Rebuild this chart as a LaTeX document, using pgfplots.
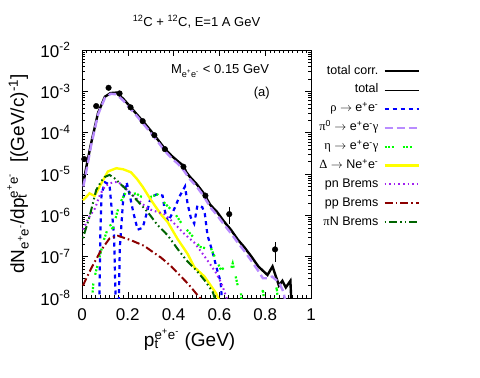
\documentclass[border=0pt]{standalone}
\usepackage{fontspec}
\setmainfont{Liberation Sans}
\newfontfamily\grk{Liberation Serif}
\usepackage{pgfplots}
\pgfplotsset{compat=1.18}
\definecolor{rhoblue}{RGB}{0,0,255}
\definecolor{pizpurple}{RGB}{185,140,255}
\definecolor{etagreen}{RGB}{0,255,0}
\definecolor{delyellow}{RGB}{255,255,0}
\definecolor{pnpurple}{RGB}{160,32,240}
\definecolor{ppred}{RGB}{140,0,0}
\definecolor{pingreen}{RGB}{0,100,0}
\begin{document}
\begin{tikzpicture}
\useasboundingbox (0pt,0pt) rectangle (480pt,378pt);
\begin{axis}[
  at={(82pt,80pt)}, anchor=south west, scale only axis,
  width=229pt, height=248pt,
  xmin=0, xmax=1, ymin=1e-8, ymax=1e-2, ymode=log, log basis y=10,
  axis line style={line width=0.8pt},
  tick align=inside, major tick length=6pt, minor tick length=3pt,
  tick style={line width=0.5pt, black},
  xtick={0,0.2,0.4,0.6,0.8,1}, xticklabels={0,0.2,0.4,0.6,0.8,1},
  minor x tick num=9,
  ytick={1e-8,1e-7,1e-6,1e-5,1e-4,1e-3,1e-2},
  yticklabels={10\textsuperscript{-8},10\textsuperscript{-7},10\textsuperscript{-6},10\textsuperscript{-5},10\textsuperscript{-4},10\textsuperscript{-3},10\textsuperscript{-2}},
  minor ytick={2e-8,3e-8,4e-8,5e-8,6e-8,7e-8,8e-8,9e-8,2e-7,3e-7,4e-7,5e-7,6e-7,7e-7,8e-7,9e-7,2e-6,3e-6,4e-6,5e-6,6e-6,7e-6,8e-6,9e-6,2e-5,3e-5,4e-5,5e-5,6e-5,7e-5,8e-5,9e-5,2e-4,3e-4,4e-4,5e-4,6e-4,7e-4,8e-4,9e-4,2e-3,3e-3,4e-3,5e-3,6e-3,7e-3,8e-3,9e-3},
  tick label style={font=\fontsize{17}{19}\selectfont},
  xticklabel style={yshift=-7pt}, yticklabel style={xshift=-8pt},
  title={\textsuperscript{12}C + \textsuperscript{12}C, E=1 A GeV},
  title style={font=\fontsize{13}{15}\selectfont, at={(axis description cs:0.5,1)}, anchor=base, yshift=18pt},
  xlabel={p\rlap{\textsubscript{t}}\textsuperscript{e\textsuperscript{+}e\textsuperscript{-}} (GeV)},
  xlabel style={font=\fontsize{19}{21}\selectfont, at={(axis description cs:0.47,0)}, anchor=base, yshift=-48pt},
  ylabel={dN\textsubscript{e\textsuperscript{+}e\textsuperscript{-}}/dp\rlap{\textsubscript{t}}\textsuperscript{e\textsuperscript{+}e\textsuperscript{-}}\ \ [(GeV/c)\textsuperscript{-1}]},
  ylabel style={font=\fontsize{19}{21}\selectfont, at={(axis description cs:-0.253,0.5)}, anchor=base},
  legend image code/.code={\draw[#1] (0pt,0pt) -- (34pt,0pt);},
  legend plot pos=right,
  legend cell align=right,
  legend style={at={(axis description cs:1.476,0.94)}, anchor=north east, draw=none, fill=none,
    font=\fontsize{12.5}{14}\selectfont, inner sep=0pt, row sep=6.9pt, column sep=5pt,
    nodes={inner sep=0pt, text height=9pt, text depth=3pt}},
]
% total corr.
\addplot[black, line width=2.4pt] coordinates {
(0.006,6.0e-6) (0.02,1.6e-5) (0.04,5.6e-5) (0.07,3.0e-4) (0.10,7.4e-4) (0.125,9.1e-4)
(0.15,9.3e-4) (0.18,6.6e-4) (0.21,4.3e-4) (0.24,2.75e-4) (0.27,1.78e-4) (0.30,1.12e-4)
(0.33,6.9e-5) (0.36,4.2e-5) (0.39,2.8e-5) (0.42,2.0e-5) (0.443,1.58e-5) (0.455,1.12e-5)
(0.47,8.7e-6) (0.50,5.75e-6) (0.53,3.5e-6) (0.56,1.8e-6) (0.59,1.2e-6) (0.62,7.1e-7)
(0.65,4.5e-7) (0.68,2.6e-7) (0.71,1.66e-7) (0.74,1.0e-7) (0.77,5.8e-8) (0.81,3.6e-8)
(0.832,5.8e-8) (0.86,2.0e-8) (0.875,2.6e-8) (0.89,1.8e-8) (0.91,2.6e-8) (0.916,5e-9)
};
\addlegendentry{total corr.}
% total
\addplot[black, line width=0.8pt] coordinates {
(0.006,6.0e-6) (0.02,1.6e-5) (0.04,5.6e-5) (0.07,3.0e-4) (0.10,7.4e-4) (0.125,9.1e-4)
(0.15,9.3e-4) (0.18,6.6e-4) (0.21,4.3e-4) (0.24,2.75e-4) (0.27,1.78e-4) (0.30,1.12e-4)
(0.33,6.9e-5) (0.36,4.2e-5) (0.39,2.8e-5) (0.42,2.0e-5) (0.443,1.58e-5) (0.455,1.12e-5)
(0.47,8.7e-6) (0.50,5.75e-6) (0.53,3.5e-6) (0.56,1.8e-6) (0.59,1.2e-6) (0.62,7.1e-7)
(0.65,4.5e-7) (0.68,2.6e-7) (0.71,1.66e-7) (0.74,1.0e-7) (0.77,5.8e-8) (0.81,3.6e-8)
(0.832,5.8e-8) (0.86,2.0e-8) (0.875,2.6e-8) (0.89,1.8e-8) (0.91,2.6e-8) (0.916,5e-9)
};
\addlegendentry{total}
% rho
\addplot[rhoblue, line width=2.2pt, dash pattern=on 4pt off 4pt] coordinates {
(0.075,5e-9) (0.08,3.2e-7) (0.085,3.2e-6) (0.10,6.3e-6) (0.12,5.6e-6) (0.14,3.2e-7)
(0.148,5e-9) (0.16,5e-9) (0.165,1.6e-7) (0.18,2.5e-6) (0.195,6.3e-6) (0.21,2.8e-6)
(0.225,1.12e-6) (0.243,4.5e-7) (0.265,5.0e-7) (0.285,1.26e-6) (0.30,2.75e-6) (0.325,3.2e-6)
(0.352,3.0e-6) (0.362,1.26e-6) (0.375,7.1e-7) (0.39,1.0e-6) (0.41,1.74e-6) (0.424,2.75e-6)
(0.45,5.0e-6) (0.461,1.9e-6) (0.475,8.9e-7) (0.49,6.3e-7) (0.504,1.74e-6) (0.525,1.58e-6)
(0.536,1.12e-6) (0.548,3.3e-7) (0.57,1.3e-7) (0.59,4.8e-8) (0.605,2.5e-8) (0.615,5e-9)
};
\addlegendentry{{\grk ρ} $\rightarrow$ e\textsuperscript{+}e\textsuperscript{-}}
% pi0
\addplot[pizpurple, line width=2.4pt, dash pattern=on 8pt off 4pt] coordinates {
(0.006,5.0e-6) (0.02,1.26e-5) (0.04,5.0e-5) (0.07,2.75e-4) (0.10,6.9e-4) (0.125,8.7e-4)
(0.15,8.5e-4) (0.18,6.0e-4) (0.21,3.9e-4) (0.24,2.5e-4) (0.27,1.58e-4) (0.30,1.0e-4)
(0.33,6.2e-5) (0.36,3.7e-5) (0.39,2.45e-5) (0.42,1.74e-5) (0.445,1.2e-5) (0.47,7.6e-6)
(0.50,5.0e-6) (0.53,3.0e-6) (0.56,1.58e-6) (0.59,1.0e-6) (0.62,6.0e-7) (0.65,3.7e-7)
(0.68,2.2e-7) (0.71,1.35e-7) (0.74,7.9e-8) (0.77,4.5e-8) (0.79,3.0e-8) (0.81,3.0e-8)
(0.83,3.3e-8) (0.86,2.4e-8) (0.88,1.4e-8) (0.895,5e-9)
};
\addlegendentry{{\grk π}\textsuperscript{0} $\rightarrow$ e\textsuperscript{+}e\textsuperscript{-}{\grk γ}}
% eta
\addplot[etagreen, line width=2.2pt, dash pattern=on 2pt off 1.5pt on 2pt off 1.5pt on 2pt off 9pt] coordinates {
(0.04,5e-9) (0.05,2.5e-8) (0.077,1.0e-7) (0.095,2.5e-7) (0.12,6.3e-7) (0.135,4.5e-7)
(0.15,1.0e-6) (0.164,1.9e-6) (0.19,3.5e-6) (0.214,3.2e-6) (0.236,3.4e-6) (0.26,2.8e-6)
(0.287,2.5e-6) (0.30,2.8e-6) (0.33,3.2e-6) (0.36,2.0e-6) (0.405,1.12e-6) (0.44,5.8e-7)
(0.49,2.8e-7) (0.513,1.74e-7) (0.54,1.6e-7) (0.557,1.9e-7) (0.586,8.3e-8) (0.607,4.8e-8)
(0.63,5.8e-8) (0.651,5.2e-8) (0.658,6.9e-8) (0.68,2.0e-8) (0.694,1.4e-8) (0.70,5e-9)
(0.78,5e-9) (0.79,1.6e-8) (0.80,5e-9) (0.84,5e-9) (0.85,1.8e-8) (0.86,5e-9)
};
\addlegendentry{{\grk η} $\rightarrow$ e\textsuperscript{+}e\textsuperscript{-}{\grk γ}}
% Delta
\addplot[delyellow, line width=2.4pt] coordinates {
(0.004,2.3e-6) (0.033,3.4e-6) (0.055,2.95e-6) (0.084,5.9e-6) (0.113,1.15e-5) (0.15,1.38e-5)
(0.18,1.3e-5) (0.214,1.1e-5) (0.24,7.6e-6) (0.265,4.9e-6) (0.30,2.4e-6) (0.345,1.05e-6)
(0.374,6.9e-7) (0.417,2.7e-7) (0.462,1.15e-7) (0.49,5.6e-8) (0.535,3.3e-8) (0.586,1.29e-8)
(0.60,8.5e-9)
};
\addlegendentry{{\grk Δ} $\rightarrow$ Ne\textsuperscript{+}e\textsuperscript{-}}
% pn Brems
\addplot[pnpurple, line width=2pt, dash pattern=on 1.6pt off 3pt] coordinates {
(0.005,4.5e-7) (0.03,8.9e-7) (0.057,1.48e-6) (0.078,3.1e-6) (0.10,5.0e-6) (0.122,6.0e-6)
(0.157,6.5e-6) (0.20,4.0e-6) (0.24,2.5e-6) (0.287,1.45e-6) (0.33,1.2e-6) (0.36,1.07e-6)
(0.40,6.6e-7) (0.446,3.6e-7) (0.49,2.2e-7) (0.52,1.32e-7) (0.557,6.9e-8) (0.586,4.0e-8)
(0.61,2.2e-8) (0.635,8.9e-9)
};
\addlegendentry{pn Brems}
% pp Brems
\addplot[ppred, line width=2pt, dash pattern=on 8pt off 3pt on 1.6pt off 3pt] coordinates {
(0.004,2.0e-8) (0.04,5.2e-8) (0.084,1.45e-7) (0.12,2.75e-7) (0.157,3.2e-7) (0.214,2.5e-7)
(0.272,1.82e-7) (0.30,1.41e-7) (0.345,9.5e-8) (0.39,5.8e-8) (0.462,2.24e-8) (0.515,1.0e-8)
(0.52,9e-9)
};
\addlegendentry{pp Brems}
% piN Brems
\addplot[pingreen, line width=2pt, dash pattern=on 1.6pt off 3pt on 8pt off 3pt on 1.6pt off 3pt] coordinates {
(0.004,2.8e-7) (0.033,9.3e-7) (0.062,4.1e-6) (0.085,6.8e-6) (0.10,8.5e-6) (0.12,9.5e-6)
(0.142,7.9e-6) (0.17,5.6e-6) (0.214,3.3e-6) (0.25,2.0e-6) (0.287,1.2e-6) (0.33,5.8e-7)
(0.374,3.3e-7) (0.417,1.55e-7) (0.455,8.3e-8) (0.50,4.6e-8) (0.535,2.7e-8) (0.571,1.4e-8)
(0.585,8e-9)
};
\addlegendentry{{\grk π}N Brems}
% data
\addplot[black, only marks, mark=*, mark size=2.8pt, forget plot,
  error bars/.cd, y dir=both, y explicit, error mark=none,
  error bar style={line width=0.6pt, black}] coordinates {
(0.01,2.3e-5) (0.062,4.4e-4) (0.116,1.22e-3) (0.164,8.9e-4) (0.212,4.1e-4)
(0.265,1.9e-4) (0.316,8.7e-5) (0.362,4.0e-5) (0.443,1.5e-5) (0.539,3.0e-6)
(0.643,1.07e-6) += (0,0.51e-6) -= (0,0.45e-6)
(0.843,1.5e-7) += (0,0.74e-7) -= (0,0.76e-7)
};
\node[font=\fontsize{13}{15}\selectfont] at (axis description cs:0.603,0.915) {M\textsubscript{e\textsuperscript{+}e\textsuperscript{-}} < 0.15 GeV};
\node[font=\fontsize{13}{15}\selectfont] at (axis description cs:0.785,0.828) {(a)};
\end{axis}
\end{tikzpicture}
\end{document}
